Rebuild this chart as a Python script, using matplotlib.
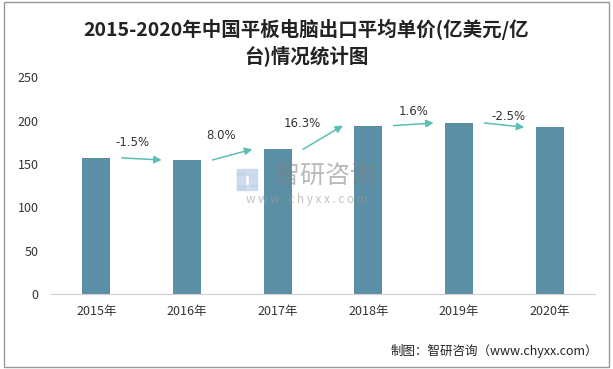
import matplotlib
matplotlib.use("Agg")
import matplotlib.pyplot as plt
from matplotlib.patches import Rectangle

plt.rcParams['font.family'] = ['Noto Sans CJK SC', 'DejaVu Sans']

# data
years = ['2015年', '2016年', '2017年', '2018年', '2019年', '2020年']
price = [157.0, 154.6, 167.0, 194.3, 197.3, 192.4]
growth = ['-1.5%', '8.0%', '16.3%', '1.6%', '-2.5%']

bar_color = '#5b8fa6'
arrow_color = '#5bbfb5'

fig = plt.figure(figsize=(6.13, 3.69), dpi=100)
ax = fig.add_axes([0.0832, 0.2033, 0.8874, 0.5872])

x = range(len(years))
ax.bar(x, price, width=0.31, color=bar_color, zorder=2)

# growth arrows between bars, labels nudged like the original
label_dx = [-0.1, -0.12, -0.23, 0.0, 0.04]
label_dy = [12, 14, 10, 9, 6]
for i, g in enumerate(growth):
    ax.annotate('', xy=(i + 0.72, price[i + 1]), xytext=(i + 0.28, price[i]),
                arrowprops=dict(arrowstyle='-|>', color=arrow_color, lw=1.1,
                                mutation_scale=11, shrinkA=0, shrinkB=0),
                zorder=3)
    ym = (price[i] + price[i + 1]) / 2
    ax.annotate(g, xy=(i + 0.5 + label_dx[i], ym), xytext=(0, label_dy[i]),
                textcoords='offset points', ha='center', va='center',
                fontsize=8.5, color='#333333', family=['DejaVu Sans'])

ax.set_xlim(-0.5, len(years) - 0.5)
ax.set_ylim(0, 250)
ax.set_yticks(range(0, 251, 50))
ax.set_xticks(list(x))
ax.set_xticklabels(years)
ax.tick_params(axis='both', length=0, labelsize=9, colors='#333333')
ax.tick_params(axis='x', pad=8)
ax.tick_params(axis='y', pad=9)
for s in ['top', 'right', 'left']:
    ax.spines[s].set_visible(False)
ax.spines['bottom'].set_color('#d0d0d0')

# watermark
fig.text(0.530, 0.522, '智研咨询', fontsize=18, color='#808080', alpha=0.55,
         ha='center', va='center', zorder=5)
for (lx, ly, lw, lh) in [(0.386, 0.527, 0.034, 0.016), (0.386, 0.488, 0.014, 0.045),
                         (0.406, 0.495, 0.014, 0.028), (0.386, 0.486, 0.034, 0.012)]:
    fig.patches.append(Rectangle((lx, ly), lw, lh, transform=fig.transFigure,
                                 color='#c3d4ea', alpha=0.8, zorder=5))
fig.text(0.501, 0.458, 'w w w . c h y x x . c o m', fontsize=8.5, color='#999999',
         alpha=0.6, ha='center', va='center', zorder=5)

fig.suptitle('2015-2020年中国平板电脑出口平均单价(亿美元/亿\n台)情况统计图',
             x=0.5, y=0.95, fontsize=14, fontweight='bold', color='#222222',
             linespacing=1.3)

fig.text(0.975, 0.05, '制图：智研咨询（www.chyxx.com）', ha='right', va='center',
         fontsize=9, color='#222222')

fig.patches.append(Rectangle((0.006, 0.006), 0.988, 0.988, transform=fig.transFigure,
                             fill=False, edgecolor='#999999', lw=1))

fig.savefig('out.png', dpi=100)
